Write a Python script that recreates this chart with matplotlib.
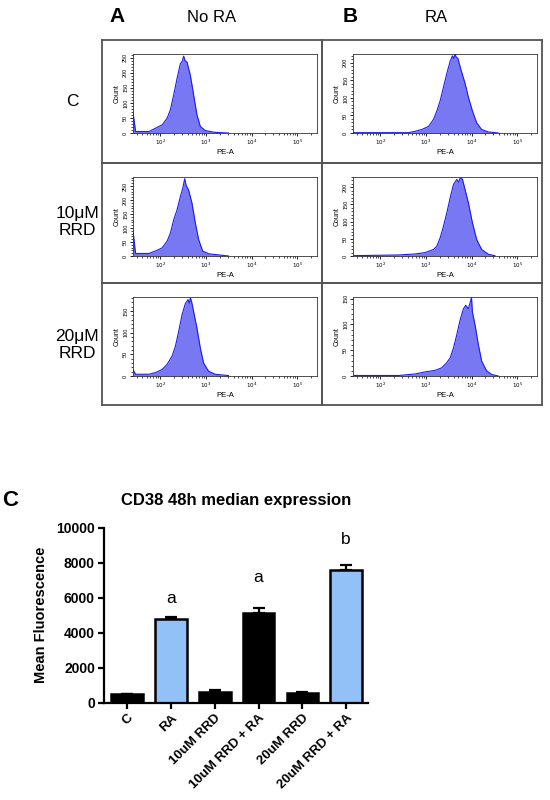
import numpy as np
import matplotlib
matplotlib.use('Agg')
import matplotlib.pyplot as plt
from matplotlib.ticker import FixedLocator, MultipleLocator, LogLocator, NullFormatter, FixedFormatter

plt.rcParams['font.family'] = ['Liberation Sans', 'DejaVu Sans']

# ---------------- Flow cytometry histograms (PE-A intensity, count) ----------------
noRA_C_x = [25, 28.5, 56, 78, 109, 140, 165, 195, 231, 273, 300, 323, 345, 382, 452, 534, 631, 746, 959, 1585, 3097]
noRA_C_y = [68, 5, 5, 16, 27, 49, 77, 126, 181, 230, 238, 255, 240, 235, 191, 126, 60, 22, 8, 2, 0]

noRA_10_x = [25, 28.5, 56, 78, 109, 140, 165, 195, 231, 273, 307, 340, 363, 415, 491, 581, 686, 839, 1135, 1875, 3097]
noRA_10_y = [90, 9, 9, 18, 29, 53, 82, 129, 165, 212, 241, 276, 253, 235, 188, 118, 59, 18, 8, 4, 0]

noRA_20_x = [25, 28.5, 56, 78, 109, 140, 180, 212, 251, 297, 351, 402, 430, 452, 480, 534, 631, 746, 882, 1135, 1585, 3097]
noRA_20_y = [15, 4, 4, 8, 15, 27, 46, 68, 103, 141, 167, 176, 168, 180, 172, 148, 110, 65, 30, 11, 4, 1]

RA_C_x = [25, 415, 581, 811, 1135, 1459, 1722, 2037, 2410, 2851, 3366, 3784, 4050, 4325, 4600, 4955, 5848, 7161, 8453, 10350, 12850, 16520, 23120, 38190]
RA_C_y = [1, 1, 5, 10, 19, 39, 63, 92, 131, 170, 204, 220, 212, 225, 215, 213, 179, 141, 102, 63, 29, 10, 3, 0]

RA_10_x = [25, 251, 581, 959, 1459, 1722, 2037, 2410, 2851, 3366, 3981, 4710, 5200, 5559, 6252, 7161, 8453, 10350, 12850, 16520, 23120, 32280]
RA_10_y = [1, 3, 6, 10, 19, 29, 53, 87, 126, 169, 208, 223, 215, 227, 224, 193, 155, 97, 48, 19, 5, 1]

RA_20_x = [25, 251, 581, 959, 1585, 2213, 2851, 3366, 3981, 4710, 5559, 6577, 7396, 8453, 9900, 10350, 11830, 13970, 16520, 21230, 27290, 38190]
RA_20_y = [1, 1, 4, 8, 11, 16, 26, 35, 54, 80, 108, 130, 137, 130, 152, 124, 99, 61, 29, 10, 3, 0]

hist_ymax = {'noRA_C': 262, 'noRA_10': 282, 'noRA_20': 182, 'RA_C': 225, 'RA_10': 230, 'RA_20': 153}
hist_yticks = {'noRA_C': [0, 50, 100, 150, 200, 250], 'noRA_10': [0, 50, 100, 150, 200, 250],
               'noRA_20': [0, 50, 100, 150], 'RA_C': [0, 50, 100, 150, 200],
               'RA_10': [0, 50, 100, 150, 200], 'RA_20': [0, 50, 100, 150]}

col_titles = ['No RA', 'RA']
col_letters = ['A', 'B']
row_labels = ['C', '10\u03bcM\nRRD', '20\u03bcM\nRRD']
hist_grid = [[('noRA_C', noRA_C_x, noRA_C_y), ('RA_C', RA_C_x, RA_C_y)],
             [('noRA_10', noRA_10_x, noRA_10_y), ('RA_10', RA_10_x, RA_10_y)],
             [('noRA_20', noRA_20_x, noRA_20_y), ('RA_20', RA_20_x, RA_20_y)]]

# ---------------- Bar chart data ----------------
bar_cats = ['C', 'RA', '10uM RRD', '10uM RRD + RA', '20uM RRD', '20uM RRD + RA']
bar_vals = [480, 4780, 590, 5100, 570, 7580]
bar_errs = [20, 110, 110, 290, 20, 290]
bar_colors = ['black', '#92c1f7', 'black', 'black', 'black', '#92c1f7']
sig_letters = ['', 'a', '', 'a', '', 'b']
sig_y = [None, 5500, None, 6750, None, 8900]
bar_yticks = [0, 2000, 4000, 6000, 8000, 10000]

W, H = 550, 800
fig = plt.figure(figsize=(5.5, 8), dpi=100)


def fx(px):
    return px / W


def fy(py):
    return 1 - py / H


def add_ax_px(x0, y0, x1, y1, **kw):
    return fig.add_axes([fx(x0), fy(y1), (x1 - x0) / W, (y1 - y0) / H], **kw)


col_x = [(102, 322), (322, 542)]
row_y = [(40, 163), (163, 283), (283, 405)]

for r, (ry0, ry1) in enumerate(row_y):
    for c, (cx0, cx1) in enumerate(col_x):
        box = add_ax_px(cx0, ry0, cx1, ry1)
        box.set_xticks([])
        box.set_yticks([])
        box.patch.set_alpha(0)
        for s in box.spines.values():
            s.set_color('#555555')
            s.set_linewidth(1.3)
        key, xs, ys = hist_grid[r][c]
        ax = add_ax_px(cx0 + 31, ry0 + 14, cx1 - 5, ry0 + 93)
        ax.fill_between(xs, ys, 0, color='#7878f2', lw=0)
        ax.plot(xs, ys, color='#1c1cf0', lw=0.8)
        ax.set_xscale('log')
        ax.set_xlim(25, 2.7e5)
        ax.set_ylim(0, hist_ymax[key])
        ax.xaxis.set_major_locator(FixedLocator([1e2, 1e3, 1e4, 1e5]))
        ax.xaxis.set_major_formatter(FixedFormatter(['$10^2$', '$10^3$', '$10^4$', '$10^5$']))
        ax.xaxis.set_minor_locator(LogLocator(base=10, subs=np.arange(2, 10)))
        ax.xaxis.set_minor_formatter(NullFormatter())
        ax.yaxis.set_major_locator(FixedLocator(hist_yticks[key]))
        ax.yaxis.set_minor_locator(MultipleLocator(10))
        ax.tick_params(axis='both', which='major', length=2.5, width=0.6, labelsize=4, pad=1)
        ax.tick_params(axis='both', which='minor', length=1.5, width=0.5)
        for lab in ax.get_yticklabels():
            lab.set_rotation(90)
            lab.set_va('center')
        for s in ax.spines.values():
            s.set_linewidth(0.6)
            s.set_color('#333333')
        ax.set_xlabel('PE-A', fontsize=5.5, labelpad=1)
        ax.set_ylabel('Count', fontsize=5, labelpad=1.5)

# column headers
fig.text(fx(117), fy(17), col_letters[0], fontsize=15, fontweight='bold', ha='center', va='center')
fig.text(fx(212), fy(17), col_titles[0], fontsize=12, ha='center', va='center')
fig.text(fx(350), fy(17), col_letters[1], fontsize=15, fontweight='bold', ha='center', va='center')
fig.text(fx(436), fy(17), col_titles[1], fontsize=12, ha='center', va='center')

row_centers = [(72, 102), (77, 222), (77, 345)]
for lab, (xc, yc) in zip(row_labels, row_centers):
    fig.text(fx(xc), fy(yc), lab, fontsize=12.5, ha='center', va='center', linespacing=1.1)

# ---------------- Bar chart ----------------
bx = add_ax_px(104, 527.7, 368, 702.7)
pos = np.arange(len(bar_cats))
bx.bar(pos, bar_vals, width=0.72, color=bar_colors, edgecolor='black', linewidth=1.8, zorder=2)
bx.errorbar(pos, bar_vals, yerr=[[0] * len(bar_errs), bar_errs], fmt='none', ecolor='black',
            elinewidth=1.6, capsize=4.5, capthick=1.6, zorder=1)
for p, l, yv in zip(pos, sig_letters, sig_y):
    if l:
        bx.text(p, yv, l, ha='center', va='bottom', fontsize=12.5)
bx.set_xlim(-0.53, 5.5)
bx.set_ylim(0, 10000)
bx.set_yticks(bar_yticks)
bx.set_yticklabels([str(t) for t in bar_yticks], fontweight='bold', fontsize=10)
bx.set_xticks(pos)
bx.set_xticklabels(bar_cats, rotation=45, ha='right', rotation_mode='anchor', fontweight='bold', fontsize=9.5)
bx.spines['top'].set_visible(False)
bx.spines['right'].set_visible(False)
for s in ('left', 'bottom'):
    bx.spines[s].set_linewidth(1.6)
bx.tick_params(axis='both', length=4.5, width=1.6, direction='out', pad=2)
bx.set_ylabel('Mean Fluorescence', fontweight='bold', fontsize=10.5, labelpad=6)
fig.text(fx(236), fy(501), 'CD38 48h median expression', fontsize=12, fontweight='bold', ha='center', va='center')
fig.text(fx(10), fy(500), 'C', fontsize=16, fontweight='bold', ha='center', va='center')

fig.savefig('out.png', dpi=100)
